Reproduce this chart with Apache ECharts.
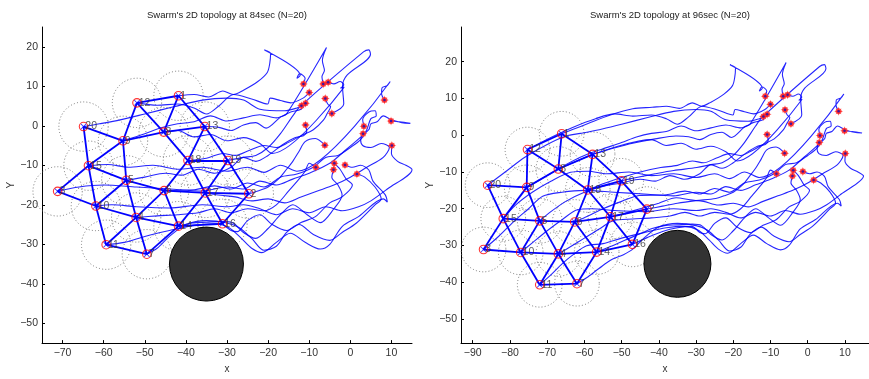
<!DOCTYPE html>
<html>
<head>
<meta charset="utf-8">
<script src="https://cdn.jsdelivr.net/npm/echarts@6/dist/echarts.min.js"></script>
<style>
html,body{margin:0;padding:0;background:#fff;}
#chart{width:869px;height:379px;}
</style>
</head>
<body>
<div id="chart"></div>
<script>
// Agent ids (labels drawn next to each agent)
const agentIds = [1,2,3,4,5,6,7,8,9,10,11,12,13,14,15,16,17,18,19,20];

// Agent positions at t = 84 s, indexed by id-1
const posAt84 = [
  [-41.8, 7.6], [-24.7, -17.2], [-71.2, -16.6], [-52.1, -23.2], [-54.5, -13.8],
  [-45.3, -16.4], [-49.5, -32.5], [-45.4, -1.6], [-55.3, -3.8], [-61.9, -20.3],
  [-59.4, -30.1], [-51.9, 5.8], [-35.4, -0.2], [-41.8, -25.4], [-63.7, -10.1],
  [-31.1, -24.8], [-35.3, -17.0], [-39.5, -8.8], [-29.8, -8.8], [-64.9, -0.2]
];

// Agent positions at t = 96 s, indexed by id-1
const posAt96 = [
  [-66.1, 0.4], [-43.2, -20.1], [-87.1, -31.1], [-67.0, -32.3], [-72.0, -23.3],
  [-62.6, -23.6], [-62.0, -40.4], [-67.0, -9.2], [-75.5, -14.2], [-77.1, -31.9],
  [-72.0, -40.7], [-75.3, -3.9], [-57.8, -5.2], [-56.7, -31.8], [-81.8, -22.7],
  [-47.1, -29.7], [-53.0, -22.2], [-59.1, -14.9], [-50.1, -12.4], [-86.0, -13.6]
];

// Neighbour links of the lattice at each instant (pairs of agent ids)
const linksAt84 = [
  [12,1],[12,9],[12,8],[1,8],[1,13],[8,13],[9,8],[20,15],[20,9],[9,15],[9,5],
  [8,18],[13,18],[13,19],[18,19],[15,5],[15,3],[15,10],[5,6],[5,10],[5,4],
  [18,6],[18,17],[19,17],[19,2],[6,17],[17,2],[3,10],[10,4],[10,11],[6,4],
  [6,14],[17,14],[17,16],[2,16],[4,14],[14,16],[4,11],[4,7],[11,7],[7,14]
];
const linksAt96 = [
  [12,1],[1,8],[1,13],[12,8],[12,9],[8,13],[8,9],[8,18],[13,18],[13,19],[18,19],
  [20,9],[20,15],[9,15],[9,5],[18,6],[18,17],[19,17],[19,2],[17,2],[15,5],[5,6],
  [6,17],[15,3],[15,10],[5,10],[5,4],[6,4],[6,14],[17,14],[17,16],[2,16],[3,10],
  [10,4],[4,14],[14,16],[10,11],[4,11],[4,7],[14,7],[11,7]
];

// Recorded path of each agent from its start point (first entry) up to t = 84 s
const pathTo84 = [
  /*1*/ [[-11.4,10.6],[-11.0,12.0],[-12.3,13.2],[-13.0,12.0],[-12.2,12.8],[-20.9,19.2],[-19.4,18.3],[-19.6,15.8],[-20.2,13.5],[-22.5,11.2],[-26.0,9.0],[-28.5,7.9],[-31.0,8.8],[-34.5,7.3],[-38.0,7.9]],
  /*2*/ [[-6.2,-4.9],[-8.5,-3.2],[-11.0,-4.0],[-12.5,-6.5],[-14.0,-9.0],[-15.5,-11.0],[-17.5,-13.5],[-20.0,-15.5],[-22.5,-16.5]],
  /*3*/ [[9.9,1.2],[12.0,1.0],[14.6,0.6],[12.5,0.8],[10.0,1.5],[8.0,2.5],[6.5,1.0],[5.0,0.5],[4.5,-1.0],[-1.0,-6.0],[-5.0,-9.5],[-10.0,-12.0],[-14.0,-13.5],[-18.0,-15.0],[-22.0,-14.0],[-26.0,-16.0],[-30.0,-15.5],[-36.0,-16.5],[-44.0,-16.0],[-52.0,-15.5],[-60.0,-15.0],[-66.0,-15.5]],
  /*4*/ [[-8.4,-10.5],[-10.0,-9.5],[-11.0,-11.5],[-12.5,-13.5],[-15.0,-16.5],[-18.0,-20.0],[-21.0,-21.5],[-25.0,-21.0],[-29.0,-22.0],[-33.0,-21.0],[-37.0,-22.0],[-42.0,-22.5],[-47.0,-22.8]],
  /*5*/ [[-10.9,0.2],[-10.6,-1.4],[-11.4,-2.5],[-13.5,-3.0],[-16.5,-4.8],[-20.0,-7.5],[-23.0,-9.0],[-26.0,-8.0],[-29.0,-10.5],[-33.0,-12.0],[-37.0,-11.0],[-41.0,-12.5],[-45.0,-12.0],[-50.0,-13.0]],
  /*6*/ [[3.3,-0.1],[3.0,1.5],[4.5,3.5],[6.0,3.8],[6.3,2.5],[5.0,1.8],[4.0,-1.0],[2.5,-3.5],[0.0,-5.5],[-3.0,-7.5],[-6.0,-8.0],[-9.0,-10.5],[-13.0,-12.2],[-17.0,-13.0],[-21.0,-15.5],[-25.0,-14.5],[-29.0,-16.0],[-33.0,-15.2],[-38.0,-16.2]],
  /*7*/ [[1.6,-12.2],[3.5,-13.0],[6.0,-15.5],[7.5,-18.5],[6.0,-20.0],[1.5,-24.6],[-2.0,-27.0],[-5.0,-29.0],[-9.0,-27.5],[-12.5,-25.0],[-15.5,-27.0],[-18.0,-30.5],[-21.0,-31.5],[-24.0,-28.5],[-27.0,-25.8],[-30.0,-24.6],[-35.0,-24.0],[-40.0,-25.0],[-44.0,-28.0],[-47.0,-31.0]],
  /*8*/ [[-5.4,11.0],[-4.0,10.6],[-2.5,11.2],[-1.6,10.4],[-2.4,9.5],[-1.5,9.8],[-19.0,-7.0],[-22.0,-4.5],[-26.0,-3.0],[-30.0,-3.8],[-34.0,-2.2],[-38.0,-2.8],[-42.0,-1.2]],
  /*9*/ [[-10.9,5.7],[-12.0,4.2],[-14.5,3.5],[-18.0,2.0],[-22.0,2.8],[-26.0,2.0],[-30.0,1.2],[-34.0,2.5],[-38.0,1.0],[-42.0,0.5],[-46.0,-0.5],[-50.0,-2.0]],
  /*10*/ [[10.1,-5.0],[10.0,-7.0],[11.5,-9.0],[13.5,-10.0],[15.0,-11.1],[9.0,-16.0],[5.0,-19.0],[2.0,-20.5],[-2.0,-21.5],[-6.0,-20.5],[-10.0,-22.0],[-14.0,-21.0],[-18.0,-22.5],[-22.0,-21.0],[-26.0,-20.0],[-30.0,-20.5],[-36.0,-20.0],[-44.0,-20.8],[-52.0,-20.5],[-58.0,-20.0]],
  /*11*/ [[-1.3,-9.9],[0.5,-10.5],[2.5,-10.0],[4.5,-11.2],[5.5,-14.0],[8.5,-17.5],[9.0,-19.3],[8.0,-18.5],[2.0,-23.0],[-2.0,-25.5],[-5.0,-30.0],[-7.3,-31.2],[-11.0,-29.5],[-14.6,-27.2],[-18.0,-29.5],[-21.5,-32.1],[-24.0,-31.0],[-26.5,-28.5],[-29.5,-25.8],[-33.0,-24.8],[-38.0,-25.2],[-44.0,-26.5],[-50.0,-28.0],[-55.0,-29.5]],
  /*12*/ [[-10.0,8.4],[-11.5,7.0],[-14.5,5.8],[-17.0,6.4],[-19.5,7.0],[-20.1,5.5],[-24.0,6.8],[-28.4,7.9],[-32.0,5.0],[-35.0,3.0],[-38.0,4.5],[-42.0,5.5],[-47.0,5.2]],
  /*13*/ [[-6.6,10.6],[-6.9,12.5],[-6.3,14.0],[-6.8,16.5],[-5.8,19.8],[-15.5,3.0],[-17.0,2.2],[-20.5,-0.6],[-23.0,0.8],[-26.0,0.2],[-29.0,-1.2],[-32.0,-0.4]],
  /*14*/ [[-4.1,-11.1],[-4.5,-13.0],[-3.0,-15.0],[-2.0,-17.5],[-4.0,-21.0],[-7.3,-24.5],[-10.5,-22.5],[-14.0,-20.0],[-17.0,-22.5],[-20.0,-26.0],[-23.0,-28.5],[-26.0,-27.0],[-28.5,-24.6],[-31.0,-24.2],[-35.0,-24.4],[-38.5,-24.6]],
  /*15*/ [[8.3,6.5],[7.6,8.2],[7.7,9.6],[9.0,10.2],[9.7,11.2],[-13.0,-11.5],[-17.0,-10.0],[-21.0,-11.8],[-25.0,-10.5],[-30.0,-11.5],[-36.0,-10.5],[-42.0,-11.0],[-48.0,-10.0],[-54.0,-10.5],[-59.0,-9.8]],
  /*16*/ [[-3.9,-9.5],[-2.5,-11.0],[-1.0,-13.5],[0.5,-15.0],[-2.0,-18.0],[-5.0,-19.5],[-8.5,-23.0],[-12.0,-24.5],[-15.5,-26.5],[-19.0,-25.0],[-22.0,-22.5],[-25.0,-24.0],[-27.5,-26.8],[-29.0,-26.5]],
  /*17*/ [[3.1,-2.0],[2.5,-3.5],[3.0,-5.0],[5.0,-5.5],[7.5,-4.5],[9.5,-5.5],[8.0,-8.0],[4.0,-10.5],[0.0,-13.0],[-4.0,-15.0],[-8.0,-16.5],[-12.0,-18.0],[-16.0,-19.5],[-20.0,-18.5],[-24.0,-19.0],[-28.0,-18.0],[-31.5,-17.6]],
  /*18*/ [[-6.1,6.9],[-5.5,5.5],[-4.8,4.8],[-5.6,3.2],[-6.5,1.5],[-9.0,-1.0],[-12.0,-2.5],[-15.0,-4.2],[-18.0,-5.5],[-21.0,-5.0],[-24.5,-6.2],[-28.0,-7.5],[-31.0,-7.0],[-35.0,-8.2]],
  /*19*/ [[-4.5,3.1],[-1.6,5.5],[-1.9,10.0],[-0.8,12.8],[4.9,18.1],[4.5,19.2],[3.2,18.7],[-12.2,4.9],[-14.0,2.5],[-17.0,-2.0],[-20.0,-5.5],[-23.0,-7.5],[-26.0,-8.0]],
  /*20*/ [[-11.9,5.1],[-13.0,4.5],[-16.0,3.8],[-22.0,4.2],[-26.0,6.5],[-30.0,7.0],[-36.0,6.5],[-43.0,4.8],[-50.0,3.0],[-56.0,1.5],[-61.0,0.5]]
];

// Path points between t = 84 s and t = 96 s
const path84to96 = [
  /*1*/ [[-47,7.2],[-53,5.5],[-59,3.2],[-63,1.6]],
  /*2*/ [[-30,-17.8],[-35,-18.5],[-39,-19.3]],
  /*3*/ [[-75,-20],[-79,-23.5],[-83,-27.5]],
  /*4*/ [[-56,-25.5],[-60,-28],[-64,-30.5]],
  /*5*/ [[-60,-15.5],[-65,-18],[-69,-20.8]],
  /*6*/ [[-50,-18],[-55,-20],[-59,-22]],
  /*7*/ [[-53,-34],[-56,-36.2],[-59,-38.5]],
  /*8*/ [[-51,-3],[-57,-5],[-62,-7]],
  /*9*/ [[-60,-5.5],[-65,-8],[-70,-11]],
  /*10*/ [[-66,-23],[-70,-26],[-74,-29.3]],
  /*11*/ [[-63,-32.5],[-66,-35],[-69,-38]],
  /*12*/ [[-57,4.5],[-63,2.2],[-69,-0.6]],
  /*13*/ [[-41,-1],[-47,-2.2],[-52,-3.5]],
  /*14*/ [[-45,-26.8],[-49,-28.5],[-53,-30.3]],
  /*15*/ [[-69,-12.5],[-74,-15.5],[-78.5,-19]],
  /*16*/ [[-35,-25.2],[-39,-26.2],[-43,-27.8]],
  /*17*/ [[-40,-18.5],[-45,-20],[-49,-21.2]],
  /*18*/ [[-45,-10],[-50,-11.5],[-55,-13.2]],
  /*19*/ [[-36,-9.6],[-41,-10.5],[-46,-11.5]],
  /*20*/ [[-70,-2.5],[-76,-6],[-81,-9.8]]
];

// Sensing range of each agent and the circular obstacle
const sensingRadius = 6;
const obstacleCenter = [-35, -35];
const obstacleRadius = 9;

// Tick values
const leftXTicks = [-70,-60,-50,-40,-30,-20,-10,0,10];
const rightXTicks = [-90,-80,-70,-60,-50,-40,-30,-20,-10,0,10];
const yTicks = [-50,-40,-30,-20,-10,0,10,20];

const titles = ["Swarm's 2D topology at 84sec (N=20)", "Swarm's 2D topology at 96sec (N=20)"];

const FONT = 'Liberation Sans, Arial, Helvetica, sans-serif';
const BLUE = '#0000ff';
const fmt = v => (v < 0 ? '\u2212' + Math.abs(v) : String(v));

function xAxisOf(gi, min, max, ticks) {
  return {
    type: 'value', gridIndex: gi, min: min, max: max,
    name: 'x', nameLocation: 'middle', nameGap: 12,
    nameTextStyle: { fontSize: 10, color: '#333', fontFamily: FONT },
    axisLine: { show: true, onZero: false, lineStyle: { color: '#000', width: 1 } },
    axisTick: { show: true, inside: true, length: 3, customValues: ticks, lineStyle: { color: '#000' } },
    axisLabel: { customValues: ticks, fontSize: 10.5, color: '#333', margin: 5, fontFamily: FONT, formatter: fmt },
    splitLine: { show: false }
  };
}
function yAxisOf(gi, min, max, ticks) {
  return {
    type: 'value', gridIndex: gi, min: min, max: max,
    name: 'Y', nameLocation: 'middle', nameGap: 26, nameRotate: 90,
    nameTextStyle: { fontSize: 10, color: '#333', fontFamily: FONT },
    axisLine: { show: true, onZero: false, lineStyle: { color: '#000', width: 1 } },
    axisTick: { show: true, inside: true, length: 3, customValues: ticks, lineStyle: { color: '#000' } },
    axisLabel: { customValues: ticks, fontSize: 10.5, color: '#333', margin: 4, fontFamily: FONT, formatter: fmt },
    splitLine: { show: false }
  };
}

function circleRenderer(style) {
  return function (params, api) {
    const c = api.coord([api.value(0), api.value(1)]);
    const r = api.size([api.value(2), 0])[0];
    return { type: 'circle', shape: { cx: c[0], cy: c[1], r: r }, style: style };
  };
}

const starPath = 'path://M0,-6 L1.2,-1.8 L4.2,-4.2 L1.8,-1.2 L6,0 L1.8,1.2 L4.2,4.2 L1.2,1.8 L0,6 L-1.2,1.8 L-4.2,4.2 L-1.8,1.2 L-6,0 L-1.8,-1.2 L-4.2,-4.2 L-1.2,-1.8 Z';
const crossPath = 'path://M0,1 L1,0 L5,4 L9,0 L10,1 L6,5 L10,9 L9,10 L5,6 L1,10 L0,9 L4,5 Z';

function panelSeries(gi, pos, links, withLastLeg) {
  const s = [];
  // sensing ranges
  s.push({
    type: 'custom', xAxisIndex: gi, yAxisIndex: gi, z: 1, silent: true,
    renderItem: circleRenderer({ fill: 'none', stroke: '#6a6a6a', lineWidth: 0.9, lineDash: [1, 2.2] }),
    data: pos.map(p => [p[0], p[1], sensingRadius])
  });
  // agent trajectories
  pathTo84.forEach((pts, i) => {
    let d = pts.concat([posAt84[i]]);
    if (withLastLeg) d = d.concat(path84to96[i], [posAt96[i]]);
    s.push({
      type: 'line', xAxisIndex: gi, yAxisIndex: gi, z: 3, silent: true,
      data: d, showSymbol: false, symbol: 'none', smooth: 0.3,
      lineStyle: { color: BLUE, width: 1.1, opacity: 0.85 }
    });
  });
  // obstacle
  s.push({
    type: 'custom', xAxisIndex: gi, yAxisIndex: gi, z: 4, silent: true,
    renderItem: circleRenderer({ fill: '#333333', stroke: '#000', lineWidth: 1 }),
    data: [[obstacleCenter[0], obstacleCenter[1], obstacleRadius]]
  });
  // lattice links
  s.push({
    type: 'lines', coordinateSystem: 'cartesian2d', xAxisIndex: gi, yAxisIndex: gi, z: 5, silent: true,
    lineStyle: { color: BLUE, width: 1.8, opacity: 1 },
    data: links.map(([a, b]) => ({ coords: [pos[a - 1], pos[b - 1]] }))
  });
  // agents: blue cross + red ring with id
  s.push({
    type: 'scatter', xAxisIndex: gi, yAxisIndex: gi, z: 6, silent: true,
    symbol: crossPath, symbolSize: 6,
    itemStyle: { color: BLUE },
    data: pos.map(p => p)
  });
  s.push({
    type: 'scatter', xAxisIndex: gi, yAxisIndex: gi, z: 7, silent: true,
    symbol: 'circle', symbolSize: 8.5,
    itemStyle: { color: 'rgba(0,0,0,0)', borderColor: '#ff0000', borderWidth: 1.1 },
    label: { show: true, position: 'right', distance: -3, formatter: '{b}', fontSize: 10.5, color: '#333', fontFamily: FONT },
    data: pos.map((p, i) => ({ name: String(agentIds[i]), value: p }))
  });
  // start points
  s.push({
    type: 'scatter', xAxisIndex: gi, yAxisIndex: gi, z: 8, silent: true,
    symbol: 'circle', symbolSize: 6,
    itemStyle: { color: '#ff4a4a', opacity: 0.9 },
    data: pathTo84.map(p => p[0])
  });
  s.push({
    type: 'scatter', xAxisIndex: gi, yAxisIndex: gi, z: 9, silent: true,
    symbol: starPath, symbolSize: 9,
    itemStyle: { color: '#ff1a1a' },
    data: pathTo84.map(p => p[0])
  });
  s.push({
    type: 'scatter', xAxisIndex: gi, yAxisIndex: gi, z: 10, silent: true,
    symbol: 'circle', symbolSize: 2.5,
    itemStyle: { color: '#1010c0' },
    data: pathTo84.map(p => p[0])
  });
  return s;
}

const chart = echarts.init(document.getElementById('chart'), null, { renderer: 'canvas' });
chart.setOption({
  animation: false,
  backgroundColor: '#fff',
  graphic: [
    { type: 'text', x: 227, y: 15, style: { text: titles[0], font: '9.5px ' + FONT, fill: '#222', align: 'center', verticalAlign: 'middle' } },
    { type: 'text', x: 670, y: 15, style: { text: titles[1], font: '9.5px ' + FONT, fill: '#222', align: 'center', verticalAlign: 'middle' } }
  ],
  grid: [
    { left: 42, top: 27, width: 370, height: 328 },
    { left: 461, top: 27, width: 418, height: 328 }
  ],
  xAxis: [xAxisOf(0, -75, 15, leftXTicks), xAxisOf(1, -93.15, 16.47, rightXTicks)],
  yAxis: [yAxisOf(0, -55, 25, yTicks), yAxisOf(1, -56.57, 29.45, yTicks)],
  series: panelSeries(0, posAt84, linksAt84, false).concat(panelSeries(1, posAt96, linksAt96, true))
});
</script>
</body>
</html>
